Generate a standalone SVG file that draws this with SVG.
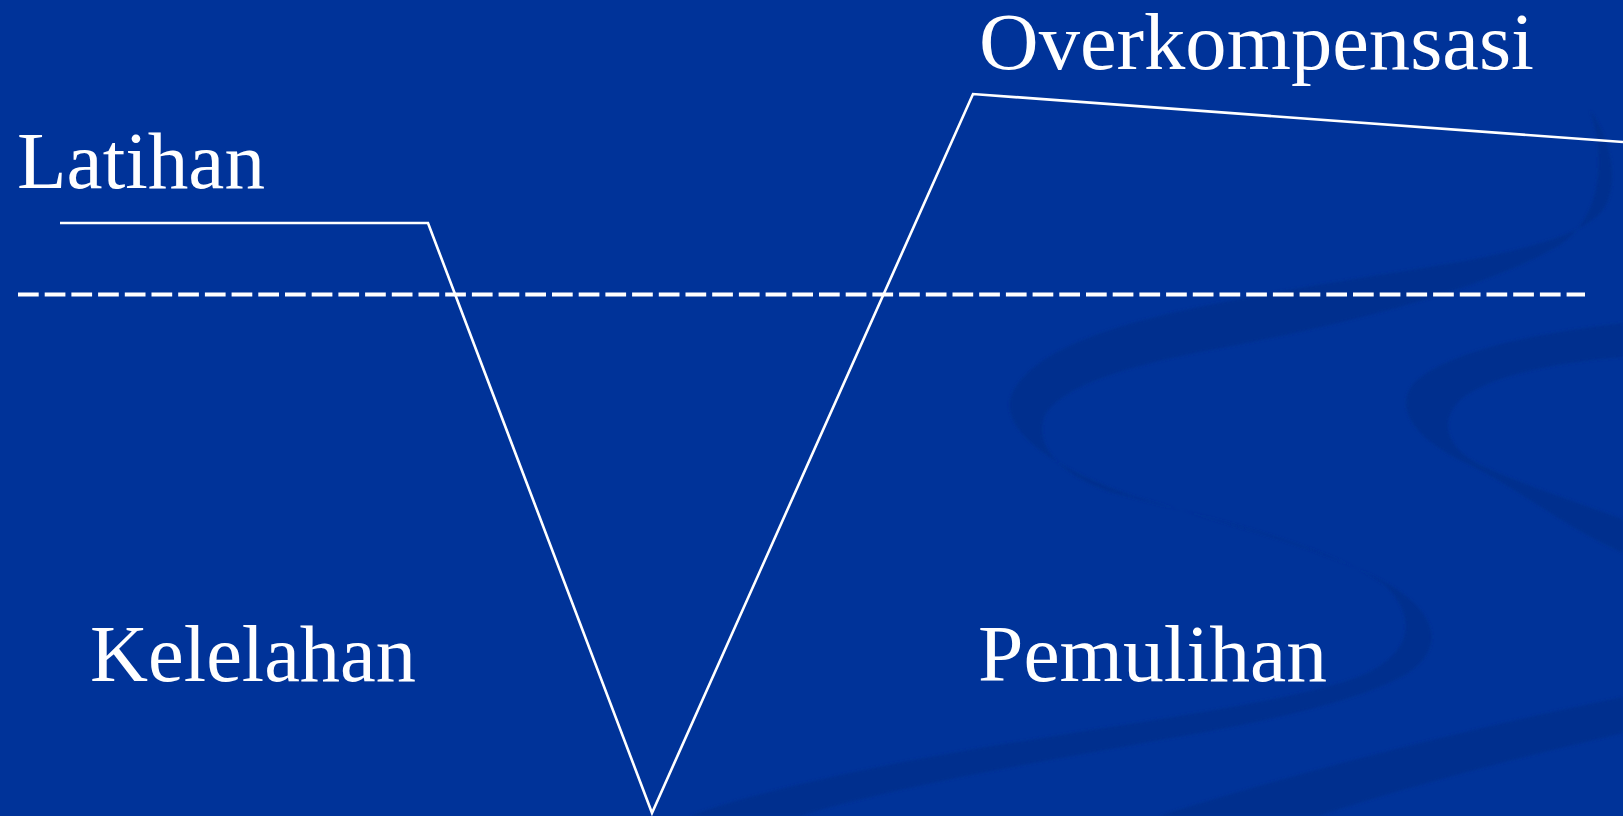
<svg xmlns="http://www.w3.org/2000/svg" width="1623" height="816" viewBox="0 0 1623 816">
  <defs>
    <filter id="soft" x="-5%" y="-5%" width="110%" height="110%">
      <feGaussianBlur stdDeviation="1.6"/>
    </filter>
    <style>
      .bg { fill: #003399; }
      .ribbon { fill: #002E8C; opacity: 0.85; }
      .label { font-family: "Liberation Serif", "Times New Roman", serif; font-size: 80px; fill: #ffffff; }
      .curve { fill: none; stroke: #ffffff; stroke-width: 2.6; stroke-linejoin: miter; }
      .base { fill: none; stroke: #ffffff; stroke-width: 4; stroke-dasharray: 20.7 6; }
    </style>
  </defs>

  <!-- slide background -->
  <rect class="bg" x="0" y="0" width="1623" height="816"/>

  <!-- decorative ribbons in the background -->
  <g id="ribbons" filter="url(#soft)">
    <path class="ribbon" d="M 1590,110
      C 1612,140 1620,185 1603,210
      C 1585,232 1540,246 1470,260
      C 1380,276 1200,300 1110,330
      C 1040,352 1005,385 1010,410
      C 1015,440 1060,470 1130,495
      C 1230,525 1330,550 1390,585
      C 1440,615 1445,650 1405,675
      C 1360,700 1280,718 1200,733
      C 1050,760 900,785 800,816
      L 690,816
      C 760,790 900,760 1030,740
      C 1150,720 1300,700 1360,676
      C 1410,655 1420,620 1385,585
      C 1330,545 1200,515 1110,492
      C 1050,470 1035,440 1045,415
      C 1060,390 1110,370 1200,352
      C 1330,328 1480,292 1560,245
      C 1598,220 1608,165 1590,110 Z"/>
    <path class="ribbon" d="M 1623,323
      C 1520,335 1440,355 1412,385
      C 1395,410 1415,440 1470,465
      C 1520,490 1570,530 1623,553
      L 1623,519
      C 1570,500 1510,480 1475,462
      C 1445,445 1440,420 1460,400
      C 1490,375 1560,362 1623,357 Z"/>
    <path class="ribbon" d="M 1623,697 C 1500,722 1320,765 1159,816 L 1318,816 C 1420,783 1520,757 1623,733 Z"/>
  </g>

  <!-- reference level and the load curve -->
  <g id="connectors">
    <line class="base" x1="18" y1="294.5" x2="1585" y2="294.5"/>
    <path class="curve" d="M 60,223 L 428,223 L 652,813 L 973,94 L 1623,142"/>
  </g>

  <g id="node-latihan">
    <text class="label" x="17" y="188" textLength="248" lengthAdjust="spacingAndGlyphs">Latihan</text>
  </g>
  <g id="node-overkompensasi">
    <text class="label" x="979" y="69" font-size="77" textLength="555" lengthAdjust="spacingAndGlyphs">Overkompensasi</text>
  </g>
  <g id="node-kelelahan">
    <text class="label" x="90" y="681" textLength="326" lengthAdjust="spacingAndGlyphs">Kelelahan</text>
  </g>
  <g id="node-pemulihan">
    <text class="label" x="978" y="681" textLength="349" lengthAdjust="spacingAndGlyphs">Pemulihan</text>
  </g>
</svg>
